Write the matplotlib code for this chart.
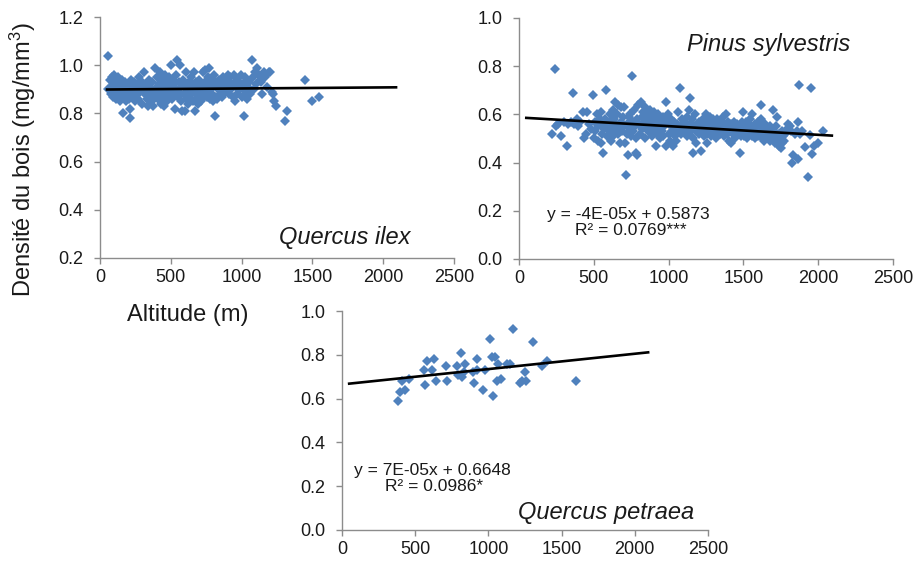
import matplotlib
matplotlib.use("Agg")
import matplotlib.pyplot as plt
import numpy as np

plt.rcParams['font.family'] = ['Liberation Sans', 'DejaVu Sans']
plt.rcParams['mathtext.fontset'] = 'custom'
plt.rcParams['mathtext.rm'] = 'Liberation Sans'
plt.rcParams['mathtext.it'] = 'Liberation Sans:italic'

# ---------------- data ----------------
ilex_alt = [55, 60, 70, 75, 80, 85, 90, 95, 100, 105,
            110, 115, 120, 125, 130, 135, 140, 145, 150,
            155, 160, 165, 170, 175, 180, 185, 190, 195, 200,
            205, 210, 215, 220, 225, 230, 235, 240, 245, 250,
            255, 260, 270, 275, 280, 290, 295, 300,
            310, 315, 320, 330, 335, 340, 345, 350,
            355, 360, 365, 370, 375, 385, 390, 395,
            405, 410, 415, 420, 425, 430, 435, 440, 445, 450,
            455, 460, 465, 470, 475, 480, 485, 490, 495, 500,
            505, 510, 515, 520, 525, 530, 535, 540, 545, 550,
            555, 560, 565, 570, 575, 580, 585, 590, 595, 600,
            605, 610, 615, 620, 625, 630, 635, 640, 645, 650,
            655, 660, 665, 670, 675, 680, 685, 690, 695, 700,
            705, 710, 715, 720, 725, 730, 735, 740, 745, 750,
            755, 760, 765, 770, 775, 780, 785, 790, 795, 800,
            805, 810, 815, 820, 825, 830, 840, 845,
            855, 860, 870, 875, 880, 890, 895,
            905, 910, 920, 925, 930, 940, 945,
            955, 960, 965, 970, 980, 990, 995,
            1005, 1010, 1020, 1025, 1030, 1035, 1040, 1045,
            1055, 1060, 1075, 1080, 1085, 1095, 1100,
            1110, 1120, 1130, 1135, 1145, 1155, 1165, 1180, 1190, 1200,
            1215, 1220, 1230, 1240, 1310, 1320, 1450, 1500, 1545]
ilex_dens = [0.90, 1.04, 0.94, 0.91, 0.88, 0.95, 0.92, 0.87, 0.96, 0.90,
             0.86, 0.93, 0.89, 0.91, 0.95, 0.88, 0.85, 0.92, 0.90,
             0.94, 0.87, 0.80, 0.91, 0.89, 0.93, 0.85, 0.88, 0.92, 0.90,
             0.86, 0.82, 0.78, 0.94, 0.89, 0.91, 0.87, 0.93, 0.85, 0.90,
             0.88, 0.92, 0.86, 0.95, 0.89, 0.91, 0.84, 0.93,
             0.97, 0.88, 0.90, 0.86, 0.92, 0.83, 0.94, 0.89,
             0.91, 0.87, 0.85, 0.93, 0.83, 0.99, 0.90, 0.88,
             0.95, 0.86, 0.92, 0.89, 0.97, 0.84, 0.91, 0.94, 0.87, 0.90,
             0.83, 0.96, 0.88, 0.92, 0.85, 0.93, 0.89, 0.95, 0.87, 1.00,
             0.91, 0.86, 0.94, 0.88, 0.92, 0.82, 0.90, 0.96, 1.02, 0.87,
             0.93, 0.89, 1.00, 0.85, 0.91, 0.81, 0.94, 0.88, 0.92, 0.81,
             0.86, 0.97, 0.90, 0.84, 0.93, 0.88, 0.91, 0.95, 0.86, 0.89,
             0.92, 0.85, 0.97, 0.81, 0.88, 0.93, 0.90, 0.84, 0.87, 0.94,
             0.89, 0.85, 0.92, 0.86, 0.90, 0.97, 0.88, 0.98, 0.93, 0.91,
             0.87, 0.95, 0.90, 0.99, 0.94, 0.86, 0.92, 0.88, 0.85, 0.91,
             0.96, 0.87, 0.79, 0.93, 0.86, 0.90, 0.94, 0.88,
             0.92, 0.87, 0.95, 0.90, 0.89, 0.93, 0.91,
             0.96, 0.88, 0.95, 0.90, 0.92, 0.87, 0.96,
             0.85, 0.91, 0.94, 0.88, 0.93, 0.90, 0.96,
             0.87, 0.92, 0.79, 0.95, 0.89, 0.86, 0.94, 0.91,
             0.93, 0.88, 1.02, 0.95, 0.90, 0.97, 0.92,
             0.99, 0.96, 0.94, 0.93, 0.88, 0.97, 0.95, 0.91, 0.97, 0.97,
             0.89, 0.88, 0.85, 0.83, 0.77, 0.81, 0.94, 0.85, 0.87]

pinus_alt = [220, 238, 245, 260, 283, 300,
             321, 330, 345, 361, 370, 385, 395,
             410, 425, 435, 446, 455, 470, 480, 495, 500,
             505, 510, 520, 525, 530, 540, 545, 550,
             555, 561, 565, 570, 575, 584, 590, 595, 600,
             605, 610, 615, 620, 625, 630, 635, 640, 645, 650,
             655, 660, 665, 670, 675, 680, 685, 690, 695, 700,
             705, 710, 717, 720, 725, 729, 735, 740, 745, 750,
             758, 760, 765, 770, 775, 780, 784, 786, 790, 795,
             805, 810, 815, 820, 825, 830, 835, 840, 845, 850,
             855, 860, 865, 870, 875, 880, 885, 890, 895, 900,
             905, 910, 918, 920, 925, 930, 935, 940, 945, 950,
             955, 960, 965, 970, 980, 985, 990, 995, 1000,
             1005, 1010, 1015, 1020, 1025, 1030, 1035, 1040, 1045, 1050,
             1055, 1060, 1065, 1074, 1078, 1085, 1090, 1095, 1100,
             1105, 1110, 1115, 1120, 1125, 1130, 1135, 1141, 1145, 1150,
             1155, 1163, 1165, 1170, 1175, 1180, 1185, 1190, 1195, 1200,
             1205, 1210, 1219, 1225, 1230, 1235, 1240, 1245, 1250,
             1255, 1260, 1265, 1270, 1275, 1280, 1285, 1290, 1295, 1300,
             1305, 1310, 1315, 1320, 1325, 1330, 1335, 1340, 1345, 1350,
             1355, 1360, 1365, 1370, 1375, 1380, 1385, 1390, 1395, 1400,
             1405, 1410, 1415, 1420, 1425, 1430, 1435, 1440, 1445, 1450,
             1455, 1460, 1465, 1475, 1480, 1485, 1490, 1497, 1500,
             1505, 1510, 1515, 1520, 1525, 1530, 1535, 1540, 1545, 1550,
             1555, 1560, 1565, 1570, 1575, 1580, 1585, 1590, 1595, 1600,
             1605, 1610, 1615, 1620, 1625, 1630, 1635, 1640, 1645, 1650,
             1655, 1660, 1665, 1670, 1675, 1680, 1685, 1690, 1695, 1700,
             1705, 1710, 1715, 1720, 1725, 1730, 1735, 1740, 1745, 1750,
             1755, 1760, 1765, 1770, 1780, 1790, 1800,
             1810, 1820, 1827, 1832, 1845, 1855, 1866, 1866, 1869, 1880, 1895,
             1911, 1932, 1943, 1954, 1960, 1975, 2000, 2032]
pinus_dens = [0.52, 0.79, 0.55, 0.56, 0.51, 0.57,
              0.47, 0.56, 0.57, 0.69, 0.56, 0.58, 0.55,
              0.57, 0.61, 0.50, 0.52, 0.61, 0.56, 0.54, 0.68, 0.50,
              0.53, 0.57, 0.60, 0.49, 0.55, 0.58, 0.48, 0.61,
              0.52, 0.44, 0.56, 0.54, 0.58, 0.70, 0.51, 0.55, 0.57,
              0.53, 0.60, 0.49, 0.56, 0.62, 0.51, 0.58, 0.65, 0.54, 0.56,
              0.60, 0.52, 0.64, 0.55, 0.48, 0.57, 0.63, 0.53, 0.59, 0.55,
              0.63, 0.48, 0.35, 0.56, 0.52, 0.43, 0.59, 0.54, 0.60, 0.51,
              0.76, 0.57, 0.53, 0.62, 0.55, 0.50, 0.44, 0.43, 0.58, 0.64,
              0.56, 0.52, 0.65, 0.59, 0.54, 0.61, 0.57, 0.50, 0.63, 0.55,
              0.58, 0.53, 0.60, 0.56, 0.62, 0.54, 0.57, 0.51, 0.59, 0.55,
              0.61, 0.53, 0.47, 0.57, 0.52, 0.60, 0.55, 0.58, 0.50, 0.56,
              0.53, 0.59, 0.51, 0.55, 0.65, 0.47, 0.57, 0.60, 0.52,
              0.56, 0.49, 0.58, 0.53, 0.55, 0.47, 0.57, 0.51, 0.54, 0.49,
              0.56, 0.53, 0.61, 0.71, 0.55, 0.52, 0.58, 0.54, 0.56,
              0.53, 0.57, 0.55, 0.51, 0.59, 0.54, 0.62, 0.67, 0.56, 0.53,
              0.58, 0.44, 0.50, 0.55, 0.60, 0.53, 0.48, 0.56, 0.54, 0.52,
              0.57, 0.55, 0.45, 0.53, 0.58, 0.51, 0.56, 0.54, 0.60,
              0.52, 0.48, 0.57, 0.55, 0.53, 0.59, 0.51, 0.56, 0.58, 0.54,
              0.52, 0.57, 0.55, 0.50, 0.58, 0.53, 0.56, 0.54, 0.52, 0.57,
              0.55, 0.53, 0.59, 0.51, 0.56, 0.54, 0.60, 0.52, 0.57, 0.55,
              0.49, 0.53, 0.56, 0.48, 0.54, 0.52, 0.57, 0.55, 0.50, 0.53,
              0.56, 0.52, 0.54, 0.44, 0.55, 0.51, 0.57, 0.61, 0.53,
              0.51, 0.55, 0.53, 0.57, 0.50, 0.54, 0.52, 0.56, 0.58, 0.53,
              0.51, 0.60, 0.54, 0.52, 0.56, 0.50, 0.55, 0.53, 0.57, 0.51,
              0.54, 0.52, 0.58, 0.64, 0.50, 0.55, 0.53, 0.49, 0.56, 0.52,
              0.54, 0.50, 0.53, 0.51, 0.55, 0.49, 0.52, 0.54, 0.62, 0.50,
              0.53, 0.48, 0.51, 0.55, 0.59, 0.49, 0.52, 0.47, 0.50, 0.46,
              0.48, 0.53, 0.51, 0.49, 0.52, 0.54, 0.56,
              0.55, 0.53, 0.40, 0.43, 0.52, 0.53, 0.57, 0.415, 0.72, 0.52, 0.53,
              0.465, 0.34, 0.513, 0.71, 0.437, 0.47, 0.48, 0.53]

petraea_alt = [382, 398, 432, 409, 455, 557, 568, 580, 614, 630, 641,
               711, 720, 784, 791, 811, 818, 841, 830, 893, 905, 920, 920,
               966, 977, 1011, 1023, 1034, 1045, 1057, 1068, 1084, 1125,
               1148, 1166, 1216, 1227, 1250, 1257, 1302, 1364, 1402, 1598]
petraea_dens = [0.59, 0.63, 0.64, 0.68, 0.69, 0.73, 0.66, 0.77, 0.73, 0.78, 0.68,
                0.75, 0.68, 0.75, 0.71, 0.81, 0.70, 0.76, 0.72, 0.72, 0.67, 0.78, 0.73,
                0.64, 0.73, 0.87, 0.79, 0.61, 0.79, 0.68, 0.76, 0.69, 0.76,
                0.76, 0.92, 0.67, 0.68, 0.72, 0.68, 0.86, 0.75, 0.77, 0.68]

# regression lines (slope, intercept) and their x-range
ilex_fit = (4.4e-6, 0.899)
pinus_fit = (-3.6e-5, 0.5873)
petraea_fit = (7.0e-5, 0.6648)
fit_range = [40, 2100]

x_ticks = [0, 500, 1000, 1500, 2000, 2500]

# ---------------- styling ----------------
W, H = 915, 566
fig = plt.figure(figsize=(W / 100, H / 100), dpi=100)
blue = '#4F81BD'
gray = '#8C8C8C'
txt = '#1a1a1a'


def px_axes(l, t, r, b):
    return fig.add_axes([l / W, 1 - b / H, (r - l) / W, (b - t) / H])


def style(ax, yticks, ylim):
    ax.set_xlim(0, 2500)
    ax.set_ylim(*ylim)
    ax.set_xticks(x_ticks)
    ax.set_yticks(yticks)
    ax.set_xticklabels([str(v) for v in x_ticks])
    ax.set_yticklabels([f"{v:.1f}" for v in yticks])
    for s in ['top', 'right']:
        ax.spines[s].set_visible(False)
    for s in ['left', 'bottom']:
        ax.spines[s].set_color(gray)
        ax.spines[s].set_linewidth(1.0)
    ax.tick_params(axis='both', colors=gray, labelcolor=txt, labelsize=13,
                   length=4, width=1.0, direction='out')
    ax.tick_params(axis='y', pad=8)
    ax.tick_params(axis='x', pad=4)
    ax.patch.set_alpha(0)


def draw(ax, xs, ys, fit):
    ax.plot(xs, ys, linestyle='none', marker='D', markersize=5.4,
            markerfacecolor=blue, markeredgewidth=0, zorder=2)
    xf = np.array(fit_range, dtype=float)
    ax.plot(xf, fit[0] * xf + fit[1], color='black', lw=1.9, zorder=3,
            solid_capstyle='butt')


ax1 = px_axes(100, 17, 454, 258)
style(ax1, [0.2, 0.4, 0.6, 0.8, 1.0, 1.2], (0.2, 1.2))
draw(ax1, ilex_alt, ilex_dens, ilex_fit)
ax1.text(0.692, 0.083, 'Quercus ilex', transform=ax1.transAxes, ha='center',
         va='center', fontsize=17, style='italic', color=txt)

ax2 = px_axes(519, 18, 893, 259)
style(ax2, [0.0, 0.2, 0.4, 0.6, 0.8, 1.0], (0.0, 1.0))
draw(ax2, pinus_alt, pinus_dens, pinus_fit)
ax2.text(0.668, 0.888, 'Pinus sylvestris', transform=ax2.transAxes, ha='center',
         va='center', fontsize=17, style='italic', color=txt)
ax2.text(0.075, 0.185, 'y = -4E-05x + 0.5873', transform=ax2.transAxes,
         ha='left', va='center', fontsize=12.5, color=txt)
ax2.text(0.150, 0.117, 'R² = 0.0769***', transform=ax2.transAxes,
         ha='left', va='center', fontsize=12.5, color=txt)

ax3 = px_axes(342, 311, 708, 530)
style(ax3, [0.0, 0.2, 0.4, 0.6, 0.8, 1.0], (0.0, 1.0))
draw(ax3, petraea_alt, petraea_dens, petraea_fit)
ax3.text(0.721, 0.082, 'Quercus petraea', transform=ax3.transAxes, ha='center',
         va='center', fontsize=17, style='italic', color=txt)
ax3.text(0.033, 0.272, 'y = 7E-05x + 0.6648', transform=ax3.transAxes,
         ha='left', va='center', fontsize=12.5, color=txt)
ax3.text(0.117, 0.197, 'R² = 0.0986*', transform=ax3.transAxes,
         ha='left', va='center', fontsize=12.5, color=txt)

fig.text(23 / W, 1 - 160 / H, 'Densité du bois (mg/mm$^{3}$)', rotation=90,
         ha='center', va='center', fontsize=17, color=txt)
fig.text(188 / W, 1 - 315 / H, 'Altitude (m)', ha='center', va='center',
         fontsize=17, color=txt)

fig.savefig('out.png', dpi=100)
